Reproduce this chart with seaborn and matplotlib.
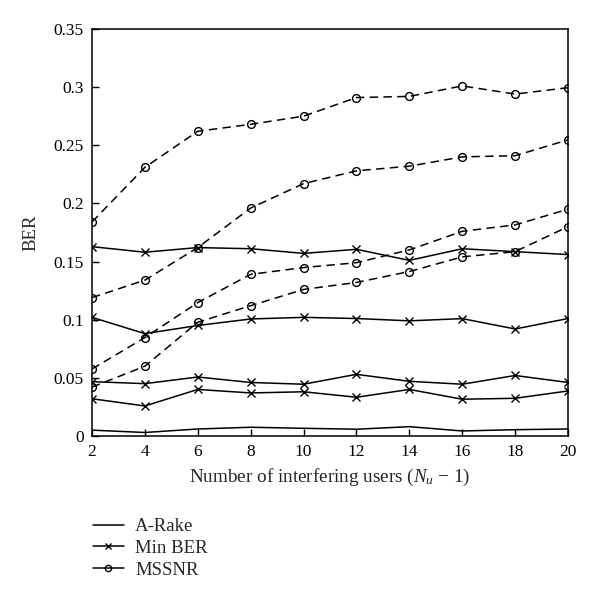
import matplotlib
matplotlib.use("Agg")
import matplotlib.pyplot as plt
import seaborn as sns
import pandas as pd
from matplotlib.lines import Line2D

users = [2, 4, 6, 8, 10, 12, 14, 16, 18, 20]

arake = [0.005, 0.003, 0.006, 0.0075, 0.0066, 0.0058, 0.008, 0.0043, 0.0054, 0.006]

minber_1 = [0.1628, 0.158, 0.162, 0.161, 0.157, 0.1605, 0.151, 0.161, 0.1585, 0.156]
minber_2 = [0.102, 0.088, 0.095, 0.1006, 0.102, 0.101, 0.099, 0.1009, 0.092, 0.101]
minber_3 = [0.0467, 0.045, 0.0507, 0.046, 0.0445, 0.053, 0.047, 0.0445, 0.052, 0.046]
minber_4 = [0.032, 0.0258, 0.040, 0.037, 0.038, 0.0333, 0.040, 0.0316, 0.0324, 0.0387]

mssnr_1 = [0.184, 0.231, 0.262, 0.268, 0.275, 0.291, 0.292, 0.301, 0.294, 0.2995]
mssnr_2 = [0.119, 0.134, 0.162, 0.196, 0.217, 0.228, 0.232, 0.240, 0.241, 0.2546]
mssnr_3 = [0.0576, 0.0846, 0.1147, 0.139, 0.1448, 0.149, 0.160, 0.176, 0.1815, 0.195]
mssnr_4 = [0.042, 0.060, 0.0978, 0.112, 0.126, 0.132, 0.1414, 0.154, 0.1585, 0.180]

series = {
    "A-Rake": [arake],
    "Min BER": [minber_1, minber_2, minber_3, minber_4],
    "MSSNR": [mssnr_1, mssnr_2, mssnr_3, mssnr_4],
}

rows = []
for method, curves in series.items():
    for k, vals in enumerate(curves):
        for x, v in zip(users, vals):
            rows.append({"users": x, "BER": v, "method": method, "curve": f"{method}{k}"})
df = pd.DataFrame(rows)

sns.set_theme(style="ticks")
plt.rcParams["font.family"] = ["Liberation Serif", "DejaVu Serif"]
plt.rcParams["mathtext.fontset"] = "custom"
plt.rcParams["mathtext.it"] = "Liberation Serif:italic"
plt.rcParams["mathtext.rm"] = "Liberation Serif"

fig = plt.figure(figsize=(6.0, 6.03), dpi=100)
ax = fig.add_axes([0.1533, 0.277, 0.7934, 0.675])

styles = {
    "A-Rake": dict(linestyle="-", marker=None),
    "Min BER": dict(linestyle="-", marker="x"),
    "MSSNR": dict(linestyle=(0, (5.5, 3.5)), marker="o"),
}

for curve, sub in df.groupby("curve", sort=False):
    method = sub["method"].iloc[0]
    st = styles[method]
    sns.lineplot(data=sub, x="users", y="BER", ax=ax, color="black",
                 linewidth=1.1, linestyle=st["linestyle"], marker=st["marker"],
                 markersize=5.6, markerfacecolor="none" if method == "MSSNR" else "black",
                 markeredgecolor="black", markeredgewidth=1.0, legend=False,
                 estimator=None, sort=True)

ax.set_xlim(2, 20)
ax.set_ylim(0, 0.35)
ax.set_xticks(users)
ax.set_yticks([0, 0.05, 0.1, 0.15, 0.2, 0.25, 0.3, 0.35])
ax.set_yticklabels(["0", "0.05", "0.1", "0.15", "0.2", "0.25", "0.3", "0.35"])
ax.tick_params(direction="in", length=5, width=1, labelsize=12.5, colors="black",
               top=False, right=False, pad=6)
for s in ax.spines.values():
    s.set_visible(True)
    s.set_color("black")
    s.set_linewidth(1.1)

ax.set_xlabel("Number of interfering users ($N_u$ $-$ 1)", fontsize=13.8, labelpad=5)
ax.set_ylabel("BER", fontsize=13.5, labelpad=10)

handles = [
    Line2D([], [], color="black", linewidth=1.1),
    Line2D([], [], color="black", linewidth=1.1, marker="x", markersize=4.5, markeredgewidth=1.0),
    Line2D([], [], color="black", linewidth=1.1, marker="o", markersize=4.5,
           markerfacecolor="none", markeredgewidth=1.0),
]
fig.legend(handles, ["A-Rake", "Min BER", "MSSNR"], loc="upper left",
           bbox_to_anchor=(0.155, 0.141), frameon=False, fontsize=13.5,
           handlelength=1.65, handletextpad=0.6, labelspacing=0.25,
           borderaxespad=0, borderpad=0)

fig.savefig("out.png", dpi=100)
